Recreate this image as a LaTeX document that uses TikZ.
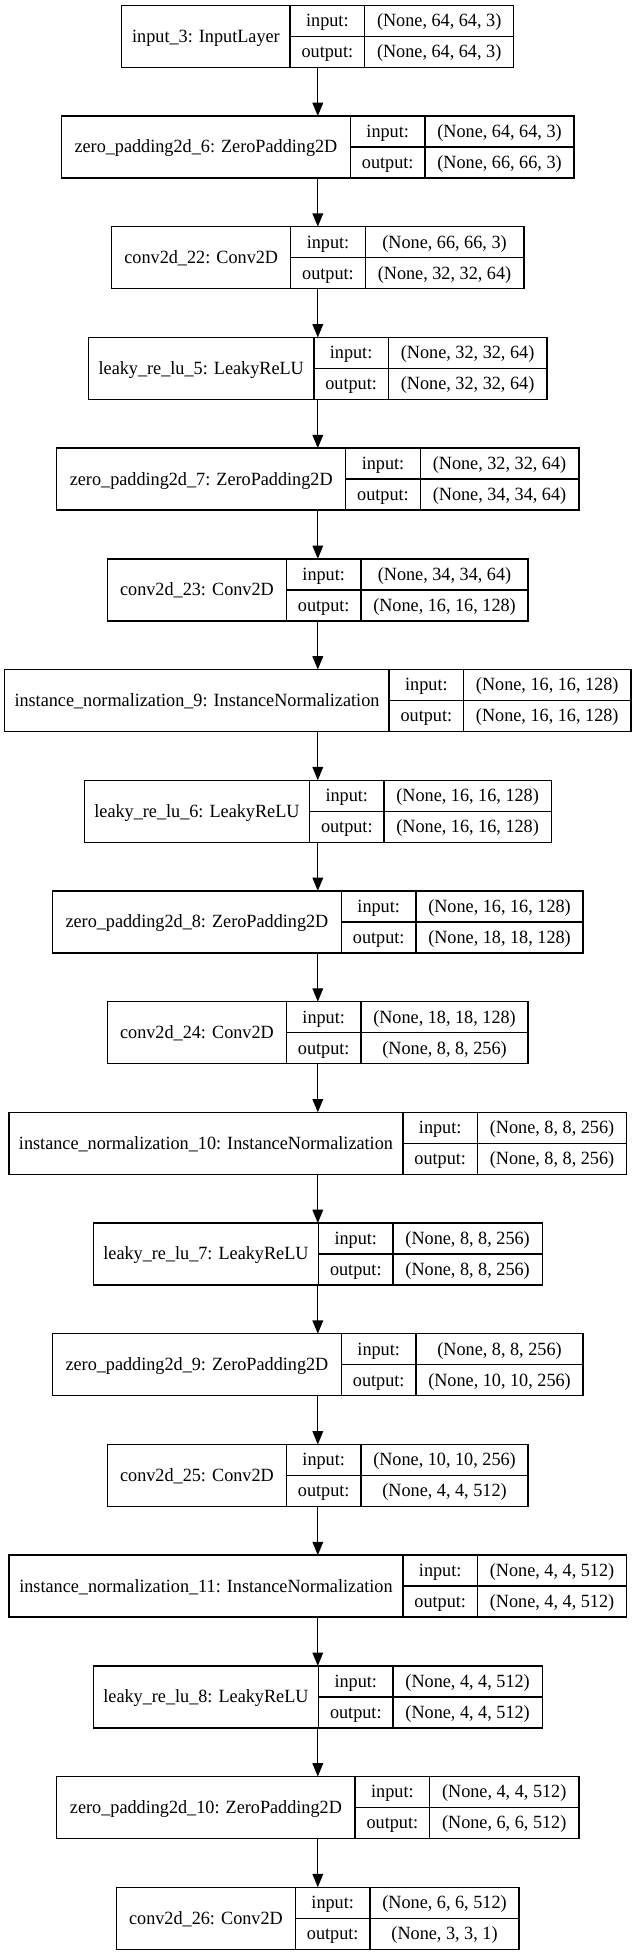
\documentclass[tikz,border=0pt]{standalone}
\usepackage{fontspec}
\setmainfont{Liberation Serif}
\newfontfamily\gvfont[FakeStretch=0.975]{Liberation Serif}
\usetikzlibrary{arrows.meta}
\newcommand\fnt{\gvfont\fontsize{14pt}{16.8pt}\selectfont}
\tikzset{
  fld/.style={draw, line width=1pt, inner sep=0pt, outer sep=0pt,
    text height=9.8pt, text depth=1pt, font=\fnt},
  whole/.style={inner sep=0pt, outer sep=0pt, minimum height=46.5pt},
  arr/.style={draw, line width=1pt, -{Triangle[length=10pt,width=8pt]}}
}
% widths in pixels of the 636 x 1955 image (1px = 0.75pt)
% #1 name, #2 index, #3 left width, #4 right width, #5 label, #6 input shape, #7 output shape
\newcommand\lay[7]{%
  \pgfmathsetlengthmacro\A{#3*0.75pt}%
  \pgfmathsetlengthmacro\B{74.5*0.75pt}%
  \pgfmathsetlengthmacro\C{#4*0.75pt}%
  \pgfmathsetlengthmacro\W{\A+\B+\C}%
  \pgfmathsetlengthmacro\yc{-(4pt+83.025pt*#2+23.25pt)}%
  \node[whole, minimum width=\W] (#1) at (238.35pt,\yc) {};
  \node[fld, minimum width=\A, minimum height=46.5pt, anchor=west] (#1a) at (#1.west) {#5};
  \node[fld, minimum width=\B, minimum height=23.25pt, anchor=north west] (#1b) at (#1a.north east) {input:};
  \node[fld, minimum width=\C, minimum height=23.25pt, anchor=north west] (#1c) at (#1b.north east) {#6};
  \node[fld, minimum width=\B, minimum height=23.25pt, anchor=north west] (#1d) at (#1b.south west) {output:};
  \node[fld, minimum width=\C, minimum height=23.25pt, anchor=north west] (#1e) at (#1c.south west) {#7};
}
\begin{document}
\begin{tikzpicture}
\useasboundingbox[fill=white] (0,0) rectangle (477pt,-1466.25pt);
\lay{L0}{0}{168.3}{149.2}{input\_3: InputLayer}{(None, 64, 64, 3)}{(None, 64, 64, 3)}
\lay{L1}{1}{289}{149.2}{zero\_padding2d\_6: ZeroPadding2D}{(None, 64, 64, 3)}{(None, 66, 66, 3)}
\lay{L2}{2}{179}{158.6}{conv2d\_22: Conv2D}{(None, 66, 66, 3)}{(None, 32, 32, 64)}
\lay{L3}{3}{225.2}{158.6}{leaky\_re\_lu\_5: LeakyReLU}{(None, 32, 32, 64)}{(None, 32, 32, 64)}
\lay{L4}{4}{289}{158.6}{zero\_padding2d\_7: ZeroPadding2D}{(None, 32, 32, 64)}{(None, 34, 34, 64)}
\lay{L5}{5}{179}{167.2}{conv2d\_23: Conv2D}{(None, 34, 34, 64)}{(None, 16, 16, 128)}
\lay{L6}{6}{384.4}{167.2}{instance\_normalization\_9: InstanceNormalization}{(None, 16, 16, 128)}{(None, 16, 16, 128)}
\lay{L7}{7}{225.2}{167.2}{leaky\_re\_lu\_6: LeakyReLU}{(None, 16, 16, 128)}{(None, 16, 16, 128)}
\lay{L8}{8}{289}{167.2}{zero\_padding2d\_8: ZeroPadding2D}{(None, 16, 16, 128)}{(None, 18, 18, 128)}
\lay{L9}{9}{179}{167.2}{conv2d\_24: Conv2D}{(None, 18, 18, 128)}{(None, 8, 8, 256)}
\lay{L10}{10}{394}{149.2}{instance\_normalization\_10: InstanceNormalization}{(None, 8, 8, 256)}{(None, 8, 8, 256)}
\lay{L11}{11}{225.2}{149.2}{leaky\_re\_lu\_7: LeakyReLU}{(None, 8, 8, 256)}{(None, 8, 8, 256)}
\lay{L12}{12}{289}{167.2}{zero\_padding2d\_9: ZeroPadding2D}{(None, 8, 8, 256)}{(None, 10, 10, 256)}
\lay{L13}{13}{179}{167.2}{conv2d\_25: Conv2D}{(None, 10, 10, 256)}{(None, 4, 4, 512)}
\lay{L14}{14}{394}{149.2}{instance\_normalization\_11: InstanceNormalization}{(None, 4, 4, 512)}{(None, 4, 4, 512)}
\lay{L15}{15}{225.2}{149.2}{leaky\_re\_lu\_8: LeakyReLU}{(None, 4, 4, 512)}{(None, 4, 4, 512)}
\lay{L16}{16}{298.4}{149.2}{zero\_padding2d\_10: ZeroPadding2D}{(None, 4, 4, 512)}{(None, 6, 6, 512)}
\lay{L17}{17}{179}{149.2}{conv2d\_26: Conv2D}{(None, 6, 6, 512)}{(None, 3, 3, 1)}
\foreach \i [evaluate=\i as \j using int(\i+1)] in {0,...,16}
  \draw[arr] (L\i) -- (L\j);
\end{tikzpicture}
\end{document}
